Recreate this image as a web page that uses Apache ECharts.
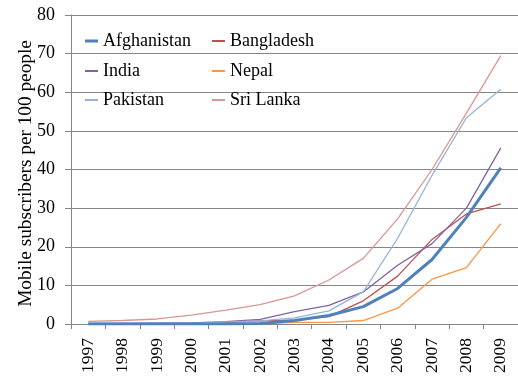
<!DOCTYPE html>
<html>
<head>
<meta charset="utf-8">
<script src="https://cdn.jsdelivr.net/npm/echarts@6/dist/echarts.min.js"></script>
<style>html,body{margin:0;padding:0;background:#fff}#c{width:518px;height:379px}</style>
</head>
<body>
<div id="c"></div>
<script>
const years = ['1997','1998','1999','2000','2001','2002','2003','2004','2005','2006','2007','2008','2009'];
const afghanistan = [0, 0, 0, 0, 0, 0.1, 0.9, 2.2, 4.5, 9.2, 16.7, 27.6, 40.4];
const bangladesh  = [0.02, 0.1, 0.1, 0.2, 0.4, 0.8, 1.0, 1.9, 6.0, 12.4, 21.9, 28.5, 31.1];
const india       = [0.1, 0.1, 0.2, 0.3, 0.6, 1.2, 3.2, 4.8, 8.3, 15.2, 20.8, 30.0, 45.6];
const nepal       = [0, 0, 0, 0, 0.1, 0.1, 0.4, 0.4, 0.9, 4.1, 11.6, 14.6, 26.0];
const pakistan    = [0.2, 0.2, 0.2, 0.2, 0.5, 0.8, 1.6, 3.4, 8.3, 22.2, 38.5, 53.4, 60.8];
const sriLanka    = [0.7, 0.9, 1.3, 2.3, 3.6, 5.0, 7.3, 11.4, 17.0, 27.2, 40.0, 54.6, 69.5];
const yTicks = { min: 0, max: 80, interval: 10 };

const font = "'Liberation Serif', 'Times New Roman', serif";
const seriesDefs = [
  { name: 'Afghanistan', data: afghanistan, color: '#4F81BD', width: 3 },
  { name: 'Bangladesh', data: bangladesh, color: '#C0504D', width: 1.3 },
  { name: 'India', data: india, color: '#8064A2', width: 1.3 },
  { name: 'Nepal', data: nepal, color: '#F79646', width: 1.3 },
  { name: 'Pakistan', data: pakistan, color: '#95B3D7', width: 1.3 },
  { name: 'Sri Lanka', data: sriLanka, color: '#D99694', width: 1.3 }
];
const legendPos = [
  [80, 27], [207, 27],
  [80, 57], [207, 57],
  [80, 86], [207, 86]
];
const legends = seriesDefs.map((s, i) => ({
  data: [s.name],
  left: legendPos[i][0], top: legendPos[i][1],
  icon: 'rect', itemWidth: 13, itemHeight: s.width > 2 ? 3 : 2,
  textStyle: { fontFamily: font, fontSize: 18, color: '#000' },
  selectedMode: false
}));

const chart = echarts.init(document.getElementById('c'), null, { renderer: 'canvas' });
chart.setOption({
  animation: false,
  backgroundColor: '#fff',
  legend: legends,
  grid: { left: 71, top: 15, width: 453, height: 309 },
  xAxis: {
    type: 'category', data: years, boundaryGap: true,
    axisLine: { lineStyle: { color: '#868686', width: 1 } },
    axisTick: { show: true, interval: 0, length: 5, lineStyle: { color: '#868686' } },
    axisLabel: { rotate: 90, interval: 0, margin: 14, fontFamily: font, fontSize: 17.5, color: '#000' }
  },
  yAxis: {
    type: 'value', min: yTicks.min, max: yTicks.max, interval: yTicks.interval,
    name: 'Mobile subscribers per 100 people', nameLocation: 'middle', nameGap: 36,
    nameMoveOverlap: false,
    nameTextStyle: { fontFamily: font, fontSize: 19.3, color: '#000', padding: [0,8,0,0] },
    axisLine: { show: true, lineStyle: { color: '#868686', width: 1 } },
    axisTick: { show: true, length: 6, lineStyle: { color: '#868686' } },
    splitLine: { lineStyle: { color: '#868686', width: 1 } },
    axisLabel: { margin: 16, fontFamily: font, fontSize: 18, color: '#000' }
  },
  series: seriesDefs.map(s => ({
    name: s.name, type: 'line', data: s.data, showSymbol: false, symbol: 'none',
    color: s.color,
    lineStyle: { color: s.color, width: s.width },
    z: s.width > 2 ? 3 : 2
  }))
});
</script>
</body>
</html>
